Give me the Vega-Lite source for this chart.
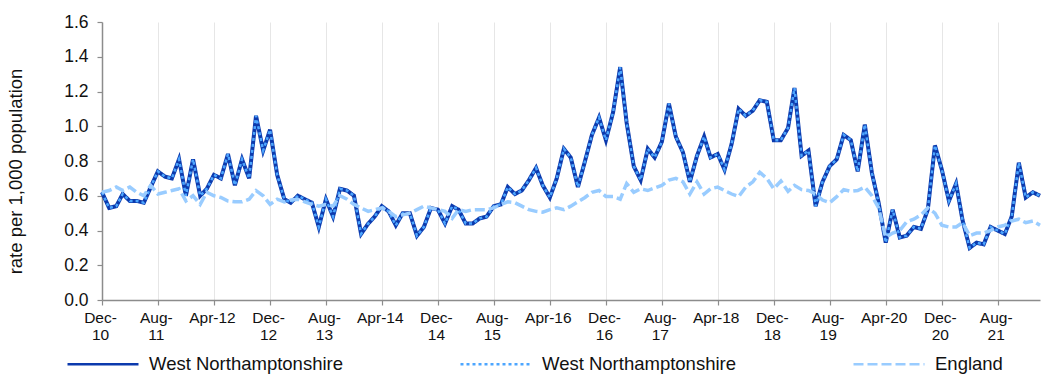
{
  "$schema": "https://vega.github.io/schema/vega-lite/v6.json",
  "width": 938,
  "height": 278,
  "autosize": {"type": "none"},
  "padding": {"left": 102, "top": 22, "right": 9, "bottom": 74},
  "config": {
    "font": "Liberation Sans",
    "view": {"stroke": null},
    "axis": {"labelColor": "#111111", "titleColor": "#111111", "domainColor": "#8c8c8c", "tickColor": "#8c8c8c", "domainWidth": 1.5, "tickWidth": 1.2},
    "axisY": {
      "titleFontSize": 18.5,
      "titleFontWeight": "normal",
      "titleX": -87,
      "titleY": 149,
      "titleAngle": -90,
      "titleAlign": "center",
      "titleBaseline": "middle",
      "grid": false,
      "tickSize": 5,
      "labelFontSize": 17.5,
      "labelPadding": 9,
      "labelOverlap": false,
      "labelFlush": false,
      "labelSeparation": 0
    }
  },
  "data": {"values": [
    {"month":"2010-12-01","west_northamptonshire":0.62,"england":0.62},
    {"month":"2011-01-01","west_northamptonshire":0.53,"england":0.63},
    {"month":"2011-02-01","west_northamptonshire":0.54,"england":0.65},
    {"month":"2011-03-01","west_northamptonshire":0.61,"england":0.63},
    {"month":"2011-04-01","west_northamptonshire":0.57,"england":0.65},
    {"month":"2011-05-01","west_northamptonshire":0.57,"england":0.62},
    {"month":"2011-06-01","west_northamptonshire":0.56,"england":0.60},
    {"month":"2011-07-01","west_northamptonshire":0.65,"england":0.66},
    {"month":"2011-08-01","west_northamptonshire":0.74,"england":0.61},
    {"month":"2011-09-01","west_northamptonshire":0.71,"england":0.62},
    {"month":"2011-10-01","west_northamptonshire":0.70,"england":0.63},
    {"month":"2011-11-01","west_northamptonshire":0.81,"england":0.64},
    {"month":"2011-12-01","west_northamptonshire":0.60,"england":0.57},
    {"month":"2012-01-01","west_northamptonshire":0.81,"england":0.60},
    {"month":"2012-02-01","west_northamptonshire":0.60,"england":0.55},
    {"month":"2012-03-01","west_northamptonshire":0.64,"england":0.62},
    {"month":"2012-04-01","west_northamptonshire":0.72,"england":0.60},
    {"month":"2012-05-01","west_northamptonshire":0.70,"england":0.59},
    {"month":"2012-06-01","west_northamptonshire":0.84,"england":0.57},
    {"month":"2012-07-01","west_northamptonshire":0.66,"england":0.565},
    {"month":"2012-08-01","west_northamptonshire":0.81,"england":0.565},
    {"month":"2012-09-01","west_northamptonshire":0.70,"england":0.58},
    {"month":"2012-10-01","west_northamptonshire":1.06,"england":0.63},
    {"month":"2012-11-01","west_northamptonshire":0.86,"england":0.60},
    {"month":"2012-12-01","west_northamptonshire":0.98,"england":0.55},
    {"month":"2013-01-01","west_northamptonshire":0.72,"england":0.58},
    {"month":"2013-02-01","west_northamptonshire":0.58,"england":0.565},
    {"month":"2013-03-01","west_northamptonshire":0.56,"england":0.575},
    {"month":"2013-04-01","west_northamptonshire":0.60,"england":0.58},
    {"month":"2013-05-01","west_northamptonshire":0.58,"england":0.565},
    {"month":"2013-06-01","west_northamptonshire":0.56,"england":0.55},
    {"month":"2013-07-01","west_northamptonshire":0.42,"england":0.54},
    {"month":"2013-08-01","west_northamptonshire":0.58,"england":0.55},
    {"month":"2013-09-01","west_northamptonshire":0.48,"england":0.54},
    {"month":"2013-10-01","west_northamptonshire":0.64,"england":0.60},
    {"month":"2013-11-01","west_northamptonshire":0.63,"england":0.58},
    {"month":"2013-12-01","west_northamptonshire":0.60,"england":0.55},
    {"month":"2014-01-01","west_northamptonshire":0.38,"england":0.53},
    {"month":"2014-02-01","west_northamptonshire":0.44,"england":0.51},
    {"month":"2014-03-01","west_northamptonshire":0.48,"england":0.52},
    {"month":"2014-04-01","west_northamptonshire":0.54,"england":0.53},
    {"month":"2014-05-01","west_northamptonshire":0.51,"england":0.51},
    {"month":"2014-06-01","west_northamptonshire":0.43,"england":0.48},
    {"month":"2014-07-01","west_northamptonshire":0.50,"england":0.49},
    {"month":"2014-08-01","west_northamptonshire":0.50,"england":0.50},
    {"month":"2014-09-01","west_northamptonshire":0.37,"england":0.52},
    {"month":"2014-10-01","west_northamptonshire":0.42,"england":0.54},
    {"month":"2014-11-01","west_northamptonshire":0.53,"england":0.53},
    {"month":"2014-12-01","west_northamptonshire":0.52,"england":0.52},
    {"month":"2015-01-01","west_northamptonshire":0.44,"england":0.51},
    {"month":"2015-02-01","west_northamptonshire":0.54,"england":0.47},
    {"month":"2015-03-01","west_northamptonshire":0.52,"england":0.52},
    {"month":"2015-04-01","west_northamptonshire":0.44,"england":0.51},
    {"month":"2015-05-01","west_northamptonshire":0.44,"england":0.52},
    {"month":"2015-06-01","west_northamptonshire":0.47,"england":0.52},
    {"month":"2015-07-01","west_northamptonshire":0.48,"england":0.52},
    {"month":"2015-08-01","west_northamptonshire":0.54,"england":0.53},
    {"month":"2015-09-01","west_northamptonshire":0.55,"england":0.55},
    {"month":"2015-10-01","west_northamptonshire":0.65,"england":0.565},
    {"month":"2015-11-01","west_northamptonshire":0.61,"england":0.56},
    {"month":"2015-12-01","west_northamptonshire":0.63,"england":0.54},
    {"month":"2016-01-01","west_northamptonshire":0.69,"england":0.52},
    {"month":"2016-02-01","west_northamptonshire":0.76,"england":0.51},
    {"month":"2016-03-01","west_northamptonshire":0.66,"england":0.505},
    {"month":"2016-04-01","west_northamptonshire":0.59,"england":0.52},
    {"month":"2016-05-01","west_northamptonshire":0.70,"england":0.53},
    {"month":"2016-06-01","west_northamptonshire":0.87,"england":0.52},
    {"month":"2016-07-01","west_northamptonshire":0.82,"england":0.54},
    {"month":"2016-08-01","west_northamptonshire":0.65,"england":0.565},
    {"month":"2016-09-01","west_northamptonshire":0.80,"england":0.59},
    {"month":"2016-10-01","west_northamptonshire":0.95,"england":0.62},
    {"month":"2016-11-01","west_northamptonshire":1.05,"england":0.63},
    {"month":"2016-12-01","west_northamptonshire":0.92,"england":0.595},
    {"month":"2017-01-01","west_northamptonshire":1.08,"england":0.595},
    {"month":"2017-02-01","west_northamptonshire":1.34,"england":0.58},
    {"month":"2017-03-01","west_northamptonshire":1.02,"england":0.67},
    {"month":"2017-04-01","west_northamptonshire":0.77,"england":0.62},
    {"month":"2017-05-01","west_northamptonshire":0.69,"england":0.64},
    {"month":"2017-06-01","west_northamptonshire":0.87,"england":0.63},
    {"month":"2017-07-01","west_northamptonshire":0.82,"england":0.645},
    {"month":"2017-08-01","west_northamptonshire":0.91,"england":0.66},
    {"month":"2017-09-01","west_northamptonshire":1.13,"england":0.69},
    {"month":"2017-10-01","west_northamptonshire":0.94,"england":0.70},
    {"month":"2017-11-01","west_northamptonshire":0.85,"england":0.68},
    {"month":"2017-12-01","west_northamptonshire":0.68,"england":0.61},
    {"month":"2018-01-01","west_northamptonshire":0.83,"england":0.68},
    {"month":"2018-02-01","west_northamptonshire":0.94,"england":0.61},
    {"month":"2018-03-01","west_northamptonshire":0.82,"england":0.64},
    {"month":"2018-04-01","west_northamptonshire":0.84,"england":0.65},
    {"month":"2018-05-01","west_northamptonshire":0.75,"england":0.63},
    {"month":"2018-06-01","west_northamptonshire":0.90,"england":0.61},
    {"month":"2018-07-01","west_northamptonshire":1.10,"england":0.595},
    {"month":"2018-08-01","west_northamptonshire":1.06,"england":0.65},
    {"month":"2018-09-01","west_northamptonshire":1.09,"england":0.68},
    {"month":"2018-10-01","west_northamptonshire":1.15,"england":0.735},
    {"month":"2018-11-01","west_northamptonshire":1.14,"england":0.70},
    {"month":"2018-12-01","west_northamptonshire":0.92,"england":0.64},
    {"month":"2019-01-01","west_northamptonshire":0.92,"england":0.685},
    {"month":"2019-02-01","west_northamptonshire":0.99,"england":0.625},
    {"month":"2019-03-01","west_northamptonshire":1.22,"england":0.66},
    {"month":"2019-04-01","west_northamptonshire":0.83,"england":0.635},
    {"month":"2019-05-01","west_northamptonshire":0.86,"england":0.63},
    {"month":"2019-06-01","west_northamptonshire":0.54,"england":0.61},
    {"month":"2019-07-01","west_northamptonshire":0.68,"england":0.575},
    {"month":"2019-08-01","west_northamptonshire":0.77,"england":0.56},
    {"month":"2019-09-01","west_northamptonshire":0.81,"england":0.595},
    {"month":"2019-10-01","west_northamptonshire":0.95,"england":0.635},
    {"month":"2019-11-01","west_northamptonshire":0.92,"england":0.625},
    {"month":"2019-12-01","west_northamptonshire":0.74,"england":0.63},
    {"month":"2020-01-01","west_northamptonshire":1.01,"england":0.65},
    {"month":"2020-02-01","west_northamptonshire":0.73,"england":0.60},
    {"month":"2020-03-01","west_northamptonshire":0.56,"england":0.53},
    {"month":"2020-04-01","west_northamptonshire":0.33,"england":0.36},
    {"month":"2020-05-01","west_northamptonshire":0.52,"england":0.385},
    {"month":"2020-06-01","west_northamptonshire":0.36,"england":0.40},
    {"month":"2020-07-01","west_northamptonshire":0.37,"england":0.45},
    {"month":"2020-08-01","west_northamptonshire":0.42,"england":0.465},
    {"month":"2020-09-01","west_northamptonshire":0.41,"england":0.49},
    {"month":"2020-10-01","west_northamptonshire":0.52,"england":0.53},
    {"month":"2020-11-01","west_northamptonshire":0.89,"england":0.50},
    {"month":"2020-12-01","west_northamptonshire":0.75,"england":0.43},
    {"month":"2021-01-01","west_northamptonshire":0.57,"england":0.42},
    {"month":"2021-02-01","west_northamptonshire":0.67,"england":0.42},
    {"month":"2021-03-01","west_northamptonshire":0.46,"england":0.445},
    {"month":"2021-04-01","west_northamptonshire":0.30,"england":0.37},
    {"month":"2021-05-01","west_northamptonshire":0.33,"england":0.385},
    {"month":"2021-06-01","west_northamptonshire":0.32,"england":0.385},
    {"month":"2021-07-01","west_northamptonshire":0.42,"england":0.40},
    {"month":"2021-08-01","west_northamptonshire":0.40,"england":0.42},
    {"month":"2021-09-01","west_northamptonshire":0.38,"england":0.43},
    {"month":"2021-10-01","west_northamptonshire":0.48,"england":0.455},
    {"month":"2021-11-01","west_northamptonshire":0.79,"england":0.465},
    {"month":"2021-12-01","west_northamptonshire":0.59,"england":0.445},
    {"month":"2022-01-01","west_northamptonshire":0.62,"england":0.455},
    {"month":"2022-02-01","west_northamptonshire":0.60,"england":0.43}
  ]},
  "encoding": {
    "x": {
      "field": "month",
      "type": "temporal",
      "scale": {"type": "utc", "domain": [{"year": 2010, "month": 12, "date": 1, "utc": true}, {"year": 2022, "month": 2, "date": 1, "utc": true}]},
      "axis": {
        "title": null,
        "grid": true,
        "gridColor": "#e6e6e6",
        "gridWidth": 1,
        "tickSize": 5,
        "labelFontSize": 15.5,
        "labelLineHeight": 17,
        "labelPadding": 5,
        "labelOffset": -2,
        "labelAngle": 0,
        "labelAlign": "center",
        "labelBaseline": "top",
        "labelFlush": false,
        "labelOverlap": false,
        "values": [
          {"year": 2010, "month": 12, "date": 1, "utc": true},
          {"year": 2011, "month": 8, "date": 1, "utc": true},
          {"year": 2012, "month": 4, "date": 1, "utc": true},
          {"year": 2012, "month": 12, "date": 1, "utc": true},
          {"year": 2013, "month": 8, "date": 1, "utc": true},
          {"year": 2014, "month": 4, "date": 1, "utc": true},
          {"year": 2014, "month": 12, "date": 1, "utc": true},
          {"year": 2015, "month": 8, "date": 1, "utc": true},
          {"year": 2016, "month": 4, "date": 1, "utc": true},
          {"year": 2016, "month": 12, "date": 1, "utc": true},
          {"year": 2017, "month": 8, "date": 1, "utc": true},
          {"year": 2018, "month": 4, "date": 1, "utc": true},
          {"year": 2018, "month": 12, "date": 1, "utc": true},
          {"year": 2019, "month": 8, "date": 1, "utc": true},
          {"year": 2020, "month": 4, "date": 1, "utc": true},
          {"year": 2020, "month": 12, "date": 1, "utc": true},
          {"year": 2021, "month": 8, "date": 1, "utc": true}
        ],
        "labelExpr": "utcmonth(datum.value) == 3 ? utcFormat(datum.value, '%b-%y') : [utcFormat(datum.value, '%b-'), utcFormat(datum.value, '%y')]"
      }
    }
  },
  "layer": [
    {
      "mark": {"type": "line", "strokeWidth": 4, "strokeCap": "butt", "strokeJoin": "miter"},
      "encoding": {
        "y": {
          "field": "west_northamptonshire",
          "type": "quantitative",
          "scale": {"domain": [0, 1.6], "nice": false, "zero": true},
          "axis": {"title": "rate per 1,000 population", "values": [0, 0.2, 0.4, 0.6, 0.8, 1.0, 1.2, 1.4, 1.6], "tickCount": 9, "format": ".1f", "labelOverlap": false}
        },
        "color": {
          "datum": "West Northamptonshire",
          "scale": {"domain": ["West Northamptonshire", "West Northamptonshire ", "England"], "range": ["#0c3aad", "#4da6ff", "#99ccff"]},
          "legend": {
            "title": null,
            "orient": "none",
            "legendX": -36,
            "legendY": 305,
            "direction": "horizontal",
            "padding": 0,
            "symbolType": "stroke",
            "symbolSize": 5041,
            "symbolStrokeWidth": 2.5,
            "labelFontSize": 18.5,
            "labelColor": "#111111",
            "labelOffset": 9,
            "labelLimit": 400,
            "columnPadding": 112
          }
        },
        "strokeDash": {
          "datum": "West Northamptonshire",
          "scale": {"domain": ["West Northamptonshire", "West Northamptonshire ", "England"], "range": [[1, 0], [3, 3], [10, 4]]},
          "legend": {"title": null}
        }
      }
    },
    {
      "mark": {"type": "line", "strokeWidth": 2.5, "strokeCap": "butt"},
      "encoding": {
        "y": {"field": "west_northamptonshire", "type": "quantitative", "axis": {"title": "rate per 1,000 population", "values": [0, 0.2, 0.4, 0.6, 0.8, 1.0, 1.2, 1.4, 1.6], "tickCount": 9, "format": ".1f", "labelOverlap": false}},
        "color": {"datum": "West Northamptonshire "},
        "strokeDash": {"datum": "West Northamptonshire "}
      }
    },
    {
      "mark": {"type": "line", "strokeWidth": 3.5, "strokeCap": "butt"},
      "encoding": {
        "y": {"field": "england", "type": "quantitative", "axis": {"title": "rate per 1,000 population", "values": [0, 0.2, 0.4, 0.6, 0.8, 1.0, 1.2, 1.4, 1.6], "tickCount": 9, "format": ".1f", "labelOverlap": false}},
        "color": {"datum": "England"},
        "strokeDash": {"datum": "England"}
      }
    }
  ]
}
